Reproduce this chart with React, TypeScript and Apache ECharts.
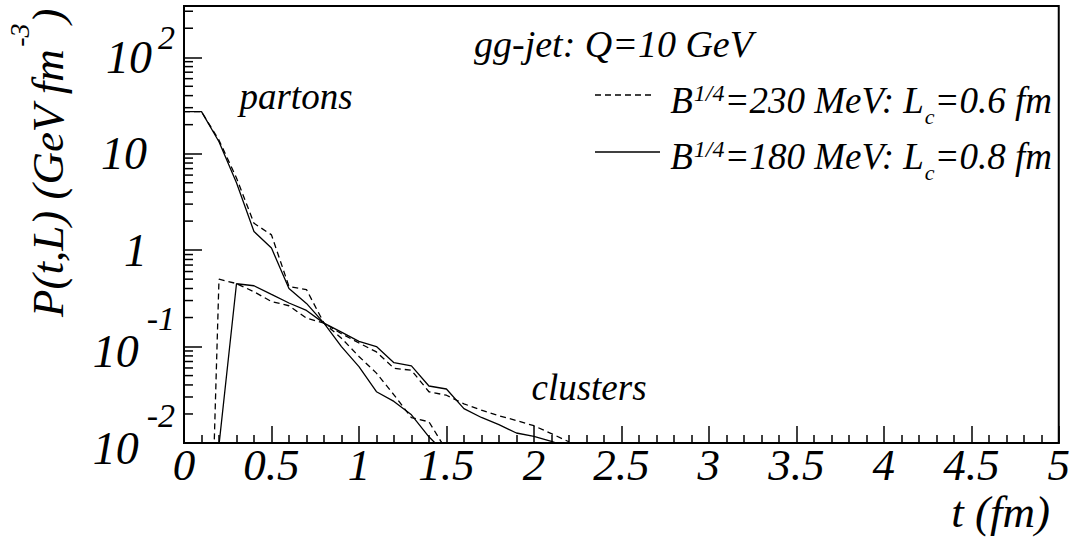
import { useEffect, useRef } from "react";
import * as echarts from "echarts";

// ---- data (t in fm, P in GeV fm^-3) ----
const tPartons = [0, 0.1, 0.2, 0.3, 0.4, 0.5, 0.6, 0.7, 0.8, 0.9, 1.0, 1.1, 1.2, 1.3, 1.4, 1.5];
const partonsB180 = [27.3, 27.3, 13.3, 5.0, 1.56, 1.05, 0.4, 0.28, 0.175, 0.1, 0.062, 0.034, 0.027, 0.0196, 0.0116, 0.0076];
const partonsB230 = [27.3, 27.3, 13.8, 5.6, 1.9, 1.44, 0.42, 0.39, 0.175, 0.122, 0.079, 0.053, 0.0316, 0.0183, 0.0166, 0.0084];

const tClustersB180 = [0.2, 0.3, 0.4, 0.5, 0.6, 0.7, 0.8, 0.9, 1.0, 1.1, 1.2, 1.3, 1.4, 1.5, 1.6, 1.7, 1.8, 1.9, 2.0, 2.1, 2.2];
const clustersB180 = [0.0095, 0.448, 0.427, 0.347, 0.283, 0.237, 0.175, 0.141, 0.113, 0.1, 0.068, 0.063, 0.039, 0.0363, 0.0227, 0.0184, 0.0155, 0.0127, 0.0117, 0.0104, 0.009];

const tClustersB230 = [0.1, 0.2, 0.3, 0.4, 0.5, 0.6, 0.7, 0.8, 0.9, 1.0, 1.1, 1.2, 1.3, 1.4, 1.5, 1.6, 1.7, 1.8, 1.9, 2.0, 2.1, 2.2];
const clustersB230 = [3e-7, 0.5, 0.45, 0.37, 0.293, 0.265, 0.197, 0.175, 0.136, 0.109, 0.088, 0.0596, 0.0568, 0.034, 0.0313, 0.0255, 0.0219, 0.0192, 0.0171, 0.0151, 0.0125, 0.0103];

const yMinorTicks = [
  0.02, 0.03, 0.04, 0.05, 0.06, 0.07, 0.08, 0.09,
  0.2, 0.3, 0.4, 0.5, 0.6, 0.7, 0.8, 0.9,
  2, 3, 4, 5, 6, 7, 8, 9,
  20, 30, 40, 50, 60, 70, 80, 90,
  200, 300,
];

const xMin = 0;
const xMax = 5;
const xInterval = 0.5;
const yMin = 0.01;
const yMax = 340;

const legendTitle = "gg-jet: Q=10 GeV";
const legend230 = ["B", "1/4", "=230 MeV: L", "c", "=0.6 fm"];
const legend180 = ["B", "1/4", "=180 MeV: L", "c", "=0.8 fm"];

const FONT = "Liberation Serif";

const zip = (xs: number[], ys: number[]) => xs.map((x, i) => [x, ys[i]]);

export default function App() {
  const ref = useRef<HTMLDivElement>(null);

  useEffect(() => {
    if (!ref.current) return;
    const chart = echarts.init(ref.current, undefined, { renderer: "svg" });

    const tok = (size: number, extra: any = {}) => ({
      fontFamily: FONT,
      fontStyle: "italic",
      fontSize: size,
      color: "#000",
      ...extra,
    });

    const txt = (text: string, x: number, y: number, size: number, align: string, lh?: number) => ({
      type: "text",
      x,
      y,
      style: {
        text,
        fill: "#000",
        fontFamily: FONT,
        fontStyle: "italic",
        fontSize: size,
        lineHeight: lh ?? size * 1.15,
        align,
        verticalAlign: "middle",
        textAlign: align,
        textVerticalAlign: "middle",
      },
    });

    const legendRich = {
      b: tok(37, { lineHeight: 40 }),
      sup: tok(24, { lineHeight: 24, padding: [0, 0, 14, 1] }),
      sub: tok(22, { lineHeight: 22, padding: [32, 0, 0, 1] }),
    };
    const legendText = (p: string[]) =>
      `{b|${p[0]}}{sup|${p[1]}}{b|${p[2]}}{sub|${p[3]}}{b|${p[4]}}`;

    const lineStyleSolid = { color: "#000", width: 1.3, type: "solid" as const };
    const lineStyleDash = { color: "#000", width: 1.3, type: [6, 4] as any };

    const option: any = {
      animation: false,
      backgroundColor: "#fff",
      textStyle: { fontFamily: FONT },
      grid: {
        left: 184,
        right: 14,
        top: 6,
        bottom: 101,
        show: true,
        borderColor: "#000",
        borderWidth: 2,
        backgroundColor: "transparent",
      },
      xAxis: {
        type: "value",
        min: xMin,
        max: xMax,
        interval: xInterval,
        axisLine: { show: true, onZero: false, lineStyle: { color: "#000", width: 2 } },
        axisTick: { show: true, inside: true, length: 17, lineStyle: { color: "#000", width: 1.5 } },
        minorTick: { show: true, splitNumber: 5, length: 8, lineStyle: { color: "#000", width: 1.5 } },
        splitLine: { show: false },
        minorSplitLine: { show: false },
        axisLabel: {
          margin: 1,
          fontFamily: FONT,
          fontStyle: "italic",
          fontSize: 45,
          lineHeight: 42,
          color: "#000",
          formatter: (v: number) => String(v),
        },
      },
      yAxis: {
        type: "log",
        logBase: 10,
        min: yMin,
        max: yMax,
        axisLine: { show: true, lineStyle: { color: "#000", width: 2 } },
        axisTick: { show: true, inside: true, length: 18, lineStyle: { color: "#000", width: 1.5 } },
        splitLine: { show: false },
        axisLabel: {
          margin: 9,
          formatter: (v: number) => {
            const e = Math.log10(v);
            const r = Math.round(e);
            if (Math.abs(e - r) > 1e-6) return "";
            if (r === 0) return "{b|1}{p| }";
            if (r === 1) return "{b|10}{p| }";
            if (r < 0) return `{bn|10}{sn|${r}}`;
            return `{b|10}{s|${r}}`;
          },
          rich: {
            b: tok(46, { lineHeight: 46 }),
            bn: tok(46, { lineHeight: 46, padding: [10, 0, 0, 0] }),
            p: tok(32, { lineHeight: 46, width: 28 }),
            s: tok(34, { lineHeight: 34, padding: [0, 0, 40, 6] }),
            sn: tok(34, { lineHeight: 34, padding: [0, 0, 56, 8] }),
          },
        },
      },
      series: [
        {
          type: "line",
          name: "partons B230",
          data: zip(tPartons, partonsB230),
          showSymbol: false,
          symbol: "none",
          clip: true,
          lineStyle: lineStyleDash,
        },
        {
          type: "line",
          name: "partons B180",
          data: zip(tPartons, partonsB180),
          showSymbol: false,
          symbol: "none",
          clip: true,
          lineStyle: lineStyleSolid,
        },
        {
          type: "line",
          name: "clusters B230",
          data: zip(tClustersB230, clustersB230),
          showSymbol: false,
          symbol: "none",
          clip: true,
          lineStyle: lineStyleDash,
        },
        {
          type: "line",
          name: "clusters B180",
          data: zip(tClustersB180, clustersB180),
          showSymbol: false,
          symbol: "none",
          clip: true,
          lineStyle: lineStyleSolid,
        },
        {
          type: "custom",
          name: "yMinorTicks",
          silent: true,
          data: yMinorTicks.map((v) => [xMin, v]),
          encode: { x: 0, y: 1 },
          renderItem: (_params: any, api: any) => {
            const p = api.coord([xMin, api.value(1)]);
            return {
              type: "line",
              shape: { x1: p[0], y1: p[1], x2: p[0] + 9, y2: p[1] },
              style: { stroke: "#000", lineWidth: 1.5 },
            };
          },
        },
      ],
      graphic: [
        {
          type: "text",
          x: 48,
          y: 163,
          rotation: Math.PI / 2,
          style: {
            text: "{a|P(t,L) (GeV fm}{s|-3}{a|)}",
            align: "center",
            verticalAlign: "middle",
            textAlign: "center",
            textVerticalAlign: "middle",
            rich: {
              a: tok(45, { lineHeight: 46 }),
              s: tok(28, { lineHeight: 28, padding: [0, 0, 58, 2] }),
            },
          },
        },
        txt("t (fm)", 1050, 512, 45, "right", 40),
        txt("partons", 296, 96, 37, "center"),
        txt("clusters", 589, 387, 37, "center"),
        txt(legendTitle, 474, 44, 38, "left"),
        {
          type: "line",
          shape: { x1: 595, y1: 95, x2: 655, y2: 95 },
          style: { stroke: "#000", lineWidth: 1.3, lineDash: [6, 4] },
        },
        {
          type: "text",
          x: 1052,
          y: 100,
          style: {
            text: legendText(legend230),
            align: "right",
            verticalAlign: "middle",
            textAlign: "right",
            textVerticalAlign: "middle",
            rich: legendRich,
          },
        },
        {
          type: "line",
          shape: { x1: 595, y1: 152, x2: 660, y2: 152 },
          style: { stroke: "#000", lineWidth: 1.3 },
        },
        {
          type: "text",
          x: 1052,
          y: 156,
          style: {
            text: legendText(legend180),
            align: "right",
            verticalAlign: "middle",
            textAlign: "right",
            textVerticalAlign: "middle",
            rich: legendRich,
          },
        },
      ],
    };

    chart.setOption(option);
    return () => chart.dispose();
  }, []);

  return (
    <div
      ref={ref}
      style={{ position: "absolute", left: 0, top: 0, width: 1073, height: 544, background: "#fff" }}
    />
  );
}
